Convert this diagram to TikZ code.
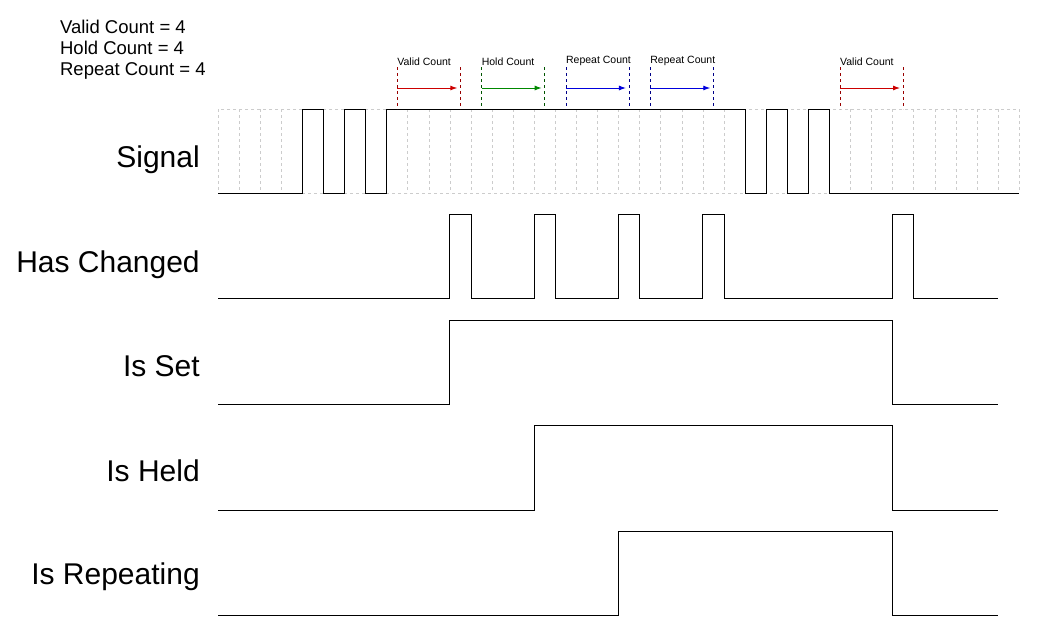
\documentclass[tikz,border=0pt]{standalone}
\usepackage{fontspec}
\setmainfont{Liberation Sans}
\usetikzlibrary{arrows.meta}
\definecolor{vred}{RGB}{204,0,0}
\definecolor{dred}{RGB}{153,0,0}
\definecolor{vgreen}{RGB}{0,136,0}
\definecolor{dgreen}{RGB}{0,85,0}
\definecolor{vblue}{RGB}{0,0,221}
\definecolor{dblue}{RGB}{0,0,136}
\tikzset{
  wave/.style={line width=0.9pt},
  gridline/.style={gray!40,dashed,line width=0.6pt},
  marker/.style={dashed,line width=0.7pt},
  span/.style={-{Latex[length=7pt,width=5pt]},line width=0.9pt},
  rowlabel/.style={anchor=east,font=\fontsize{30}{34}\selectfont},
  spanlabel/.style={anchor=south west,inner xsep=0pt,inner ysep=1pt,font=\fontsize{10.5}{12}\selectfont}
}
\begin{document}
\begin{tikzpicture}[x=21.08pt,y=-1pt]
\useasboundingbox (-10.342,0) rectangle (38.99,636);
  % settings text
  \node[anchor=west,inner xsep=0pt,font=\fontsize{18.5}{21}\selectfont,align=left] (cfg) at (-7.5,50)
    {Valid Count = 4\\Hold Count = 4\\Repeat Count = 4};
  % Draw grid
  \foreach \x in {1,...,37}
    \draw[gridline] (\x,109) -- (\x,193);
  \draw[gridline] (0,109) rectangle (38,193);
  % Draw row labels
  \node[rowlabel] (sig) at (-0.7,160) {Signal};
  \node[rowlabel] (chg) at (-0.7,265) {Has Changed};
  \node[rowlabel] (set) at (-0.7,366) {Is Set};
  \node[rowlabel] (held) at (-0.7,471) {Is Held};
  \node[rowlabel] (rep) at (-0.7,577) {Is Repeating};
  % Draw waveforms
  \draw[wave] (0,193) -- (4,193) -- (4,109) -- (5,109) -- (5,193) -- (6,193) -- (6,109)
    -- (7,109) -- (7,193) -- (8,193) -- (8,109) -- (25,109) -- (25,193) -- (26,193)
    -- (26,109) -- (27,109) -- (27,193) -- (28,193) -- (28,109) -- (29,109) -- (29,193) -- (38,193);
  \draw[wave] (0,298) \foreach \p in {11,15,19,23,32}
    { -- (\p,298) -- (\p,214) -- (\p+1,214) -- (\p+1,298) } -- (37,298);
  \draw[wave] (0,404) -- (11,404) -- (11,320) -- (32,320) -- (32,404) -- (37,404);
  \draw[wave] (0,510) -- (15,510) -- (15,425) -- (32,425) -- (32,510) -- (37,510);
  \draw[wave] (0,615) -- (19,615) -- (19,531) -- (32,531) -- (32,615) -- (37,615);
  % Draw count spans
  \foreach \a/\dc/\ac/\txt in {8.5/dred/vred/Valid Count,12.5/dgreen/vgreen/Hold Count,
      16.5/dblue/vblue/Repeat Count,20.5/dblue/vblue/Repeat Count,29.5/dred/vred/Valid Count} {
    \draw[marker,\dc] (\a,67) -- (\a,109);
    \draw[marker,\dc] (\a+3,67) -- (\a+3,109);
    \draw[span,\ac] (\a,88) -- (\a+2.85,88);
    \node[spanlabel] at (\a,67) {\txt};
  }
\end{tikzpicture}
\end{document}
